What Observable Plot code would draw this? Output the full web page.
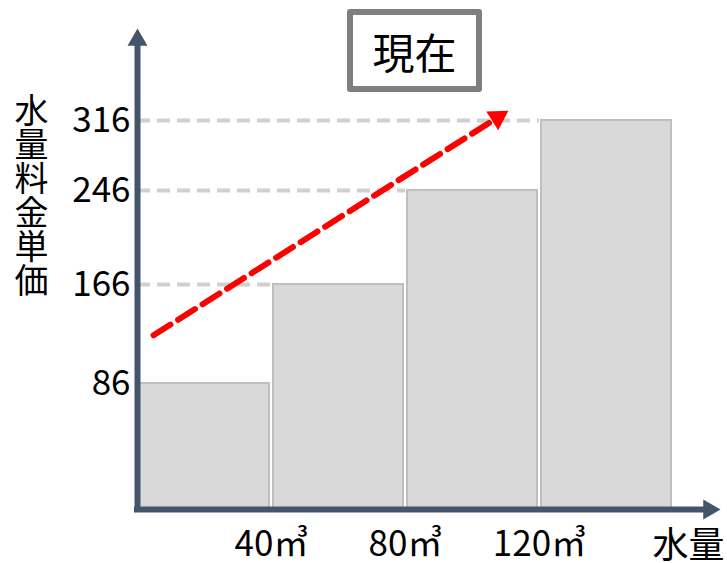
<!DOCTYPE html>
<html>
<head>
<meta charset="utf-8">
<script src="https://cdn.jsdelivr.net/npm/d3@7"></script>
<script src="https://cdn.jsdelivr.net/npm/@observablehq/plot@0.6"></script>
<style>
  body { margin: 0; background: #fff; }
  #wrap { position: relative; width: 727px; height: 563px; font-family: "Noto Sans CJK JP", "Noto Sans", sans-serif; }
  #title { position: absolute; left: 347px; top: 9px; width: 135px; height: 83px; box-sizing: border-box;
           border: 6px solid #7F7F7F; border-radius: 3px; background: #fff;
           display: flex; align-items: center; justify-content: center; font-size: 42px; color: #000; z-index: 2; }
  #ylabel { position: absolute; left: 13px; top: 93px; writing-mode: vertical-rl; font-size: 34px; line-height: 36px; color: #000; z-index: 2; }
  #wrap svg { position: absolute; left: 0; top: 0; }
</style>
</head>
<body>
<div id="wrap">
  <div id="title"></div>
  <div id="ylabel"></div>
</div>
<script>
// ---- data ----
const lowerLimits = [0, 40, 80, 120];      // m³
const upperLimits = [40, 80, 120, 160];    // m³
const unitPrices = [86, 166, 246, 316];    // 水量料金単価
const xTickValues = [40, 80, 120];
const xTickLabels = ["40㎥", "80㎥", "120㎥"];
const xAxisLabel = "水量";
const yAxisLabel = "水量料金単価";
const titleText = "現在";
const trendStart = {x: 4.8, y: 125};
const trendEnd = {x: 107.5, y: 319};
const xAxisEnd = 170.6;
const yAxisEnd = 396.5;

const bars = unitPrices.map((p, i) => ({x1: lowerLimits[i], x2: upperLimits[i], price: p}));
const grid = bars.slice(1);
const trend = [trendStart, trendEnd];

document.getElementById("title").textContent = titleText;
document.getElementById("ylabel").textContent = yAxisLabel;

const axisColor = "#44546A";
const font = "Noto Sans CJK JP";

// the drawing's value axis is not evenly spaced: warp it piecewise through the labelled prices
const warp = d3.scaleLinear().domain([0, 86, 166, 246, 316]).range([0, 126, 225, 319, 389]);

const chart = Plot.plot({
  width: 727,
  height: 563,
  marginLeft: 137,
  marginRight: 54,
  marginTop: 120,
  marginBottom: 54,
  style: {fontFamily: font, background: "transparent", overflow: "visible"},
  x: {domain: [0, 160], range: [137, 673], axis: null},
  y: {type: "linear", transform: warp, domain: [0, 389], range: [509, 120], axis: null},
  marks: [
    Plot.ruleY(grid, {y: "price", x1: 0, x2: "x1", stroke: "#D0D0D0", strokeWidth: 4, strokeDasharray: "13,7"}),
    Plot.rectY(bars, {x1: "x1", x2: "x2", y1: 0, y2: "price", fill: "#D9D9D9", stroke: "#BFBFBF", strokeWidth: 2, insetLeft: 2, insetRight: 2}),
    Plot.line(trend, {x: "x", y: "y", stroke: "#FF0000", strokeWidth: 6, strokeDasharray: "20,9"}),
    Plot.dot([trendEnd], {x: "x", y: "y", symbol: "triangle", r: 8.2, fill: "#FF0000", stroke: "none", rotate: 57.6}),
    Plot.ruleX([0], {y1: 0, y2: yAxisEnd, stroke: axisColor, strokeWidth: 6, strokeLinecap: "square"}),
    Plot.ruleY([0], {x1: 0, x2: xAxisEnd, stroke: axisColor, strokeWidth: 6, strokeLinecap: "square"}),
    Plot.dot([0], {x: 0, y: yAxisEnd, symbol: "triangle", r: 7.4, fill: axisColor, stroke: "none"}),
    Plot.dot([0], {x: xAxisEnd, y: 0, symbol: "triangle", r: 7.4, fill: axisColor, stroke: "none", rotate: 90}),
    Plot.text(unitPrices, {x: 0, y: d => d, text: d => String(d), textAnchor: "end", dx: -7, fontSize: 35, fill: "#000"}),
    Plot.text(xTickValues, {x: d => d, y: 0, text: (d, i) => xTickLabels[i], dy: 35, fontSize: 35, fill: "#000"}),
    Plot.text([xAxisLabel], {x: 164.5, y: 0, text: d => d, dy: 37, fontSize: 36, fill: "#000"})
  ]
});
document.getElementById("wrap").appendChild(chart);
</script>
</body>
</html>
